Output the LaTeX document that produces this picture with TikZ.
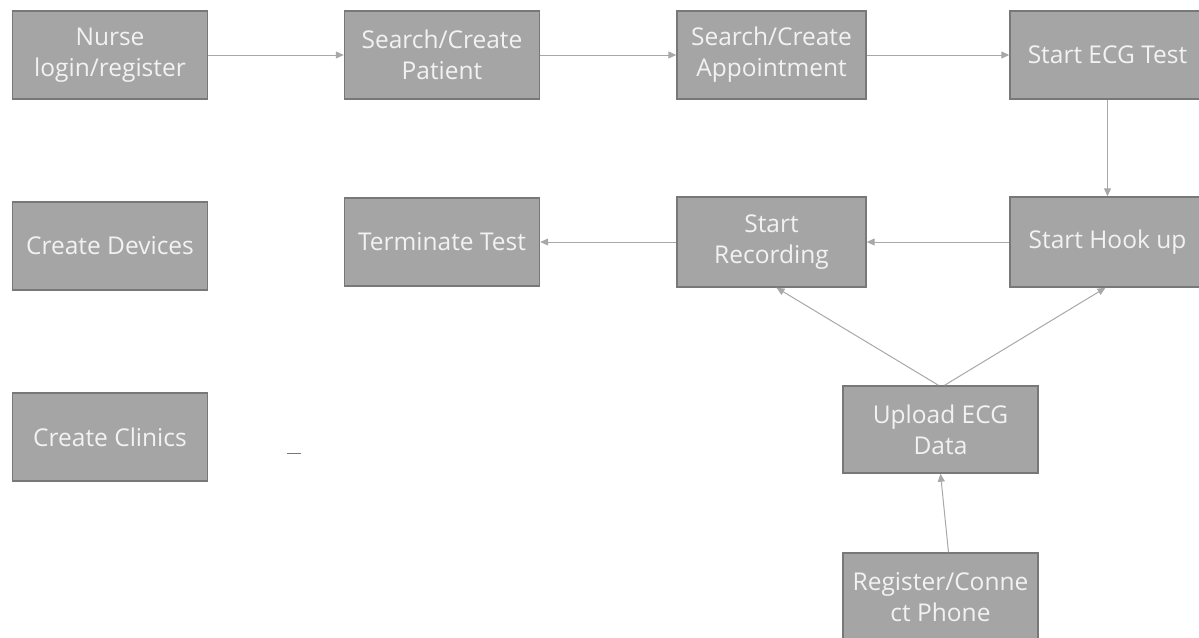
\documentclass[tikz,border=0pt]{standalone}
\usepackage{fontspec}
\setmainfont{Open Sans}
\usetikzlibrary{arrows.meta}
\definecolor{boxfill}{HTML}{A5A5A5}
\definecolor{boxline}{HTML}{787878}
\definecolor{boxtext}{HTML}{F2F2F2}
\definecolor{linkgray}{HTML}{A8A8A8}
\tikzset{
  stepbox/.style={draw=boxline, line width=1.4pt, fill=boxfill, text=boxtext,
    minimum width=195pt, minimum height=88pt, align=center, inner sep=0pt,
    font=\fontsize{24.5}{31}\selectfont},
  link/.style={draw=linkgray, line width=1pt, -{Triangle[width=7pt,length=8pt]}}
}
\begin{document}
\begin{tikzpicture}[x=1pt,y=-1pt]
  \useasboundingbox (0,0) rectangle (1199,637);
  % top row
  \node[stepbox] (nurse)   at (110,55)   {Nurse\\login/register};
  \node[stepbox] (patient) at (442,55)   {Search/Create\\Patient};
  \node[stepbox, minimum width=189pt] (appt) at (771.5,55) {Search/Create\\Appointment};
  \node[stepbox] (ecg)     at (1107.5,55) {Start ECG Test};
  % second row
  \node[stepbox] (devices) at (110,246)  {Create Devices};
  \node[stepbox] (term)    at (442,242)  {Terminate Test};
  \node[stepbox, minimum width=189pt, minimum height=90pt] (rec) at (771.5,242) {Start\\Recording};
  \node[stepbox, minimum height=90pt] (hook) at (1107.5,242) {Start Hook up};
  % lower nodes
  \node[stepbox] (clinics) at (110,437)  {Create Clinics};
  \node[stepbox, minimum height=87pt] (upload) at (940.5,429.5) {Upload ECG\\Data};
  \node[stepbox] (phone)   at (940.5,597) {Register/Conne\\ct Phone};
  % stray dash
  \coordinate (dashL) at (287,453);
  \coordinate (dashR) at (301,453);
  \draw[boxline, line width=1pt] (dashL) -- (dashR);
  % connectors
  \draw[link] (nurse.east) -- (patient.west);
  \draw[link] (patient.east) -- (appt.west);
  \draw[link] (appt.east) -- (ecg.west);
  \draw[link] (ecg.south) -- (hook.north);
  \draw[link] (hook.west) -- (rec.west -| rec.east);
  \draw[link] (rec.west) -- (term.east);
  \coordinate (upA) at ([xshift=-2pt]upload.north);
  \coordinate (upB) at ([xshift=4pt]upload.north);
  \draw[link] (upA) -- ([xshift=5pt]rec.south);
  \draw[link] (upB) -- ([xshift=-2pt]hook.south);
  \draw[link] ([xshift=8pt]phone.north) -- ([xshift=0pt]upload.south);
\end{tikzpicture}
\end{document}
